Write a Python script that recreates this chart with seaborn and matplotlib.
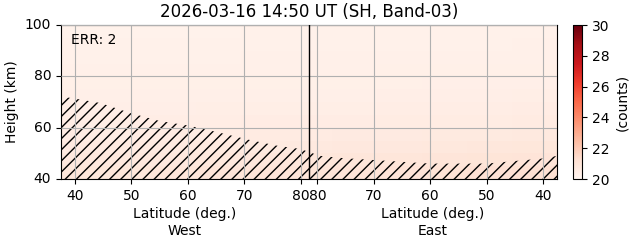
import numpy as np
import pandas as pd
import matplotlib
matplotlib.use("Agg")
import matplotlib.pyplot as plt
import seaborn as sns

# ---------------- data ----------------
title = "2026-03-16 14:50 UT (SH, Band-03)"
err_text = "ERR: 2"
apex_lat = 81.5          # latitude at the turning point (centre line)
edge_lat = 37.5          # latitude at both plot edges
west_ticks = [40, 50, 60, 70, 80]
east_ticks = [80, 70, 60, 50, 40]
height_ticks = [40, 60, 80, 100]
cbar_ticks = [20, 22, 24, 26, 28, 30]

# cell centres: heights (top -> bottom) and along-track offset from apex (deg)
row_heights = [97.5, 92.5, 87.5, 82.5, 77.5, 72.5, 67.5, 62.5, 57.5, 52.5, 47.5, 42.5]
col_track = [-40, -32, -24, -16, -8, 0, 8, 16, 24, 32, 40]
counts = [
    [20.22, 20.22, 20.23, 20.23, 20.24, 20.24, 20.24, 20.24, 20.25, 20.25, 20.26],
    [20.24, 20.24, 20.25, 20.25, 20.26, 20.26, 20.26, 20.26, 20.27, 20.27, 20.28],
    [20.26, 20.26, 20.27, 20.27, 20.28, 20.28, 20.28, 20.28, 20.29, 20.29, 20.30],
    [20.29, 20.29, 20.30, 20.30, 20.31, 20.31, 20.31, 20.32, 20.32, 20.33, 20.34],
    [20.32, 20.32, 20.33, 20.33, 20.34, 20.34, 20.35, 20.35, 20.36, 20.37, 20.38],
    [20.36, 20.36, 20.37, 20.37, 20.38, 20.39, 20.39, 20.40, 20.41, 20.42, 20.43],
    [20.41, 20.41, 20.42, 20.43, 20.44, 20.45, 20.46, 20.47, 20.48, 20.49, 20.51],
    [20.47, 20.47, 20.48, 20.49, 20.51, 20.52, 20.53, 20.55, 20.56, 20.58, 20.60],
    [20.55, 20.55, 20.56, 20.58, 20.60, 20.61, 20.63, 20.65, 20.67, 20.69, 20.72],
    [20.64, 20.65, 20.66, 20.68, 20.70, 20.72, 20.75, 20.78, 20.80, 20.83, 20.86],
    [20.76, 20.77, 20.78, 20.80, 20.83, 20.86, 20.90, 20.93, 20.96, 21.00, 21.04],
    [20.88, 20.89, 20.91, 20.94, 20.97, 21.01, 21.05, 21.09, 21.13, 21.18, 21.24],
]

# lower boundary of valid data (hatched below), along-track offset (deg) and height (km)
bnd_track = [-44.0, -43.5, -41.2, -37.0, -31.7, -26.5, -21.1, -15.8, -10.5, -5.5, -1.5, 0.0,
             2.0, 5.7, 11.5, 21.5, 31.5, 37.5, 41.5, 44.0]
bnd_height = [72.0, 72.0, 71.2, 69.6, 65.7, 62.6, 60.7, 58.0, 55.2, 52.9, 51.7, 50.5,
              49.0, 48.2, 47.4, 46.0, 46.0, 47.2, 48.0, 49.0]

# ---------------- figure ----------------
plt.rcParams["font.family"] = ["DejaVu Sans"]
plt.rcParams["font.size"] = 10

fig = plt.figure(figsize=(6.31, 2.43), dpi=100)
ax = fig.add_axes([61 / 631, 1 - 179 / 243, 496 / 631, 154 / 243])
cax = fig.add_axes([573 / 631, 1 - 179 / 243, 9 / 631, 154 / 243])

df = pd.DataFrame(counts, index=row_heights, columns=col_track)
sns.heatmap(df, cmap="Reds", vmin=20, vmax=30, ax=ax, cbar_ax=cax,
            cbar_kws={"ticks": cbar_ticks})

ncols = len(col_track)
nrows = len(row_heights)
half_span = apex_lat - edge_lat
col_w = 2 * half_span / ncols
row_h = (100 - 40) / nrows


def track_to_idx(s):
    return (np.asarray(s, dtype=float) + half_span) / col_w


def height_to_idx(h):
    return (100 - np.asarray(h, dtype=float)) / row_h


# x ticks
xt_pos = list(track_to_idx([lat - apex_lat for lat in west_ticks])) + \
         list(track_to_idx([apex_lat - lat for lat in east_ticks]))
xt_lab = [str(v) for v in west_ticks] + [str(v) for v in east_ticks]
ax.set_xticks(xt_pos)
ax.set_xticklabels(xt_lab, rotation=0)
ax.set_yticks(height_to_idx(height_ticks))
ax.set_yticklabels([str(v) for v in height_ticks], rotation=0)
ax.set_xlim(0, ncols)
ax.set_ylim(nrows, 0)
ax.set_xlabel("")
ax.set_ylabel("Height (km)")

for sp in ax.spines.values():
    sp.set_visible(True)
    sp.set_color("black")
    sp.set_linewidth(0.8)

ax.grid(True, color="#b0b0b0", linewidth=0.8)
ax.set_axisbelow(False)

# hatched invalid region
ax.fill_between(track_to_idx(bnd_track), height_to_idx(bnd_height), nrows,
                facecolor="none", edgecolor="black", hatch="///", linewidth=0, zorder=2)

# centre line
ax.axvline(track_to_idx(0.0), color="black", linewidth=1.0, zorder=3)

ax.text(0.02, 0.95, err_text, transform=ax.transAxes, ha="left", va="top", fontsize=10)
ax.set_title(title, fontsize=12)

ax.text(0.25, -0.185, "Latitude (deg.)\nWest", transform=ax.transAxes,
        ha="center", va="top", fontsize=10)
ax.text(0.75, -0.185, "Latitude (deg.)\nEast", transform=ax.transAxes,
        ha="center", va="top", fontsize=10)

cb = ax.collections[0].colorbar
cb.outline.set_linewidth(0.8)
cb.outline.set_edgecolor("black")
cb.set_label("(counts)", fontsize=10)
cax.tick_params(labelsize=10)

fig.savefig("out.png", dpi=100)
